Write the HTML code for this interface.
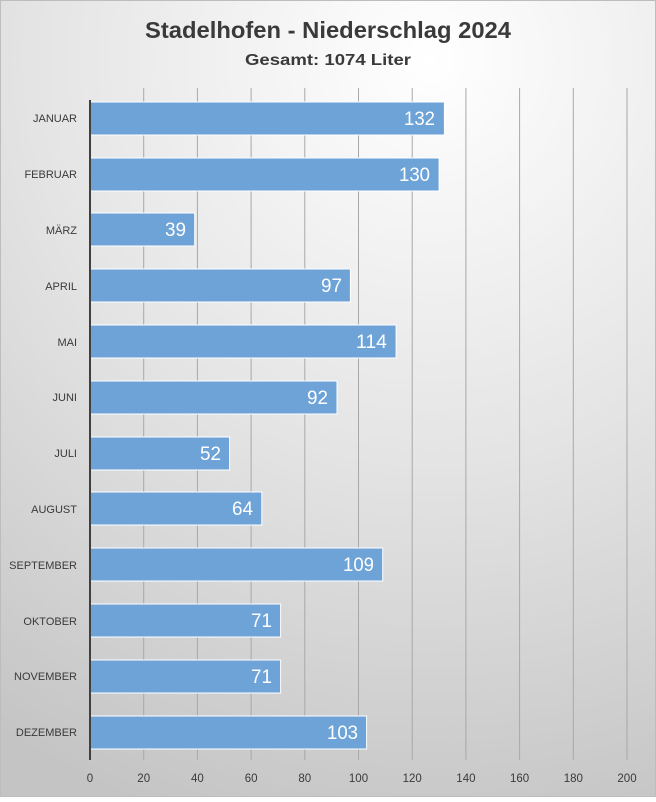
<!DOCTYPE html>
<html><head><meta charset="utf-8"><style>
html,body{margin:0;padding:0;}
body{width:656px;height:797px;overflow:hidden;}
</style></head><body>
<svg width="656" height="797" xmlns="http://www.w3.org/2000/svg" font-family="'Liberation Sans', sans-serif">
<defs>
<radialGradient id="bg" cx="430" cy="60" r="800" gradientUnits="userSpaceOnUse">
<stop offset="0" stop-color="#ffffff"/>
<stop offset="0.5" stop-color="#e4e4e4"/>
<stop offset="1" stop-color="#c4c4c4"/>
</radialGradient>
</defs>
<rect width="656" height="797" fill="url(#bg)"/>
<rect x="0.5" y="0.5" width="655" height="796" fill="none" stroke="#bdbdbd"/>
<text x="328" y="38" text-anchor="middle" font-size="23" font-weight="bold" fill="#3a3a3a" textLength="366" lengthAdjust="spacingAndGlyphs">Stadelhofen - Niederschlag 2024</text>
<text x="328" y="65" text-anchor="middle" font-size="16" font-weight="bold" fill="#3a3a3a" textLength="166" lengthAdjust="spacingAndGlyphs">Gesamt: 1074 Liter</text>
<g stroke="#a8a8a8" stroke-width="1">
<line x1="143.7" y1="88" x2="143.7" y2="760"/>
<line x1="197.4" y1="88" x2="197.4" y2="760"/>
<line x1="251.1" y1="88" x2="251.1" y2="760"/>
<line x1="304.8" y1="88" x2="304.8" y2="760"/>
<line x1="358.5" y1="88" x2="358.5" y2="760"/>
<line x1="412.2" y1="88" x2="412.2" y2="760"/>
<line x1="465.9" y1="88" x2="465.9" y2="760"/>
<line x1="519.6" y1="88" x2="519.6" y2="760"/>
<line x1="573.3" y1="88" x2="573.3" y2="760"/>
<line x1="627" y1="88" x2="627" y2="760"/>
</g>
<g fill="#6ea3d8" stroke="#ffffff" stroke-width="1">
<rect x="90" y="102" width="354.4" height="33"/>
<rect x="90" y="158" width="349.1" height="33"/>
<rect x="90" y="213" width="104.7" height="33"/>
<rect x="90" y="269" width="260.4" height="33"/>
<rect x="90" y="325" width="306.1" height="33"/>
<rect x="90" y="381" width="247" height="33"/>
<rect x="90" y="437" width="139.6" height="33"/>
<rect x="90" y="492" width="171.8" height="33"/>
<rect x="90" y="548" width="292.7" height="33"/>
<rect x="90" y="604" width="190.6" height="33"/>
<rect x="90" y="660" width="190.6" height="33"/>
<rect x="90" y="716" width="276.6" height="33"/>
</g>
<line x1="90" y1="100" x2="90" y2="760" stroke="#404040" stroke-width="2"/>
<g fill="#ffffff" font-size="19" text-anchor="end" transform="scale(1,1)">
<text x="435" y="125" textLength="31" lengthAdjust="spacingAndGlyphs">132</text>
<text x="430" y="181" textLength="31" lengthAdjust="spacingAndGlyphs">130</text>
<text x="186" y="236" textLength="21" lengthAdjust="spacingAndGlyphs">39</text>
<text x="342" y="292" textLength="21" lengthAdjust="spacingAndGlyphs">97</text>
<text x="387" y="348" textLength="31" lengthAdjust="spacingAndGlyphs">114</text>
<text x="328" y="404" textLength="21" lengthAdjust="spacingAndGlyphs">92</text>
<text x="221" y="460" textLength="21" lengthAdjust="spacingAndGlyphs">52</text>
<text x="253" y="515" textLength="21" lengthAdjust="spacingAndGlyphs">64</text>
<text x="374" y="571" textLength="31" lengthAdjust="spacingAndGlyphs">109</text>
<text x="272" y="627" textLength="21" lengthAdjust="spacingAndGlyphs">71</text>
<text x="272" y="683" textLength="21" lengthAdjust="spacingAndGlyphs">71</text>
<text x="358" y="739" textLength="31" lengthAdjust="spacingAndGlyphs">103</text>
</g>
<g fill="#3a3a3a" font-size="11" text-anchor="end">
<text x="77" y="122">JANUAR</text>
<text x="77" y="178">FEBRUAR</text>
<text x="77" y="234">MÄRZ</text>
<text x="77" y="290">APRIL</text>
<text x="77" y="346">MAI</text>
<text x="77" y="401">JUNI</text>
<text x="77" y="457">JULI</text>
<text x="77" y="513">AUGUST</text>
<text x="77" y="569">SEPTEMBER</text>
<text x="77" y="625">OKTOBER</text>
<text x="77" y="680">NOVEMBER</text>
<text x="77" y="736">DEZEMBER</text>
</g>
<g fill="#3a3a3a" font-size="11.5" text-anchor="middle">
<text x="90" y="782">0</text>
<text x="143.7" y="782">20</text>
<text x="197.4" y="782">40</text>
<text x="251.1" y="782">60</text>
<text x="304.8" y="782">80</text>
<text x="358.5" y="782">100</text>
<text x="412.2" y="782">120</text>
<text x="465.9" y="782">140</text>
<text x="519.6" y="782">160</text>
<text x="573.3" y="782">180</text>
<text x="627" y="782">200</text>
</g>
</svg>
</body></html>
